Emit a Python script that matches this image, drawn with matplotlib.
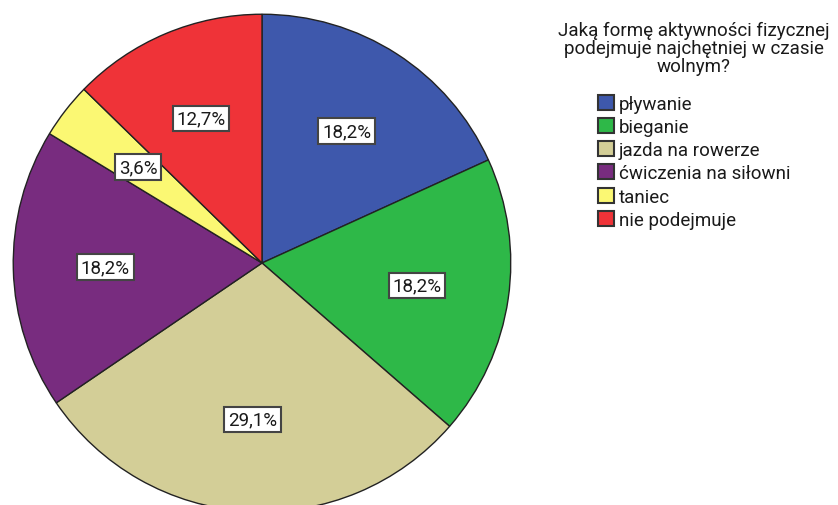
import matplotlib
matplotlib.use('Agg')
import matplotlib.pyplot as plt

categories = ['pływanie', 'bieganie', 'jazda na rowerze', 'ćwiczenia na siłowni',
              'taniec', 'nie podejmuje']
shares = [18.2, 18.2, 29.1, 18.2, 3.6, 12.7]
colors = ['#3E58AC', '#2EB848', '#D3CE97', '#782C7F', '#FBF873', '#EF3338']
legend_title = 'Jaką formę aktywności fizycznej\npodejmuje najchętniej w czasie\nwolnym?'

plt.rcParams['font.family'] = ['Roboto', 'DejaVu Sans']

W, H = 838, 506
fig = plt.figure(figsize=(W / 100, H / 100), dpi=100)
# pie spans x 12..512, y 14..514 (px from top)
ax = fig.add_axes([12 / W, (H - 514) / H, 500 / W, 500 / H])
ax.set_aspect('equal')

wedges, texts, autotexts = ax.pie(
    shares, colors=colors, startangle=90, counterclock=False,
    autopct=lambda p: f'{p:.1f}%'.replace('.', ','), pctdistance=0.63,
    wedgeprops=dict(edgecolor='#222222', linewidth=1.0),
    textprops=dict(fontsize=13.5, color='#1a1a1a'),
    normalize=True)
for t in autotexts:
    t.set_bbox(dict(facecolor='white', edgecolor='#444444', linewidth=1.5,
                    boxstyle='square,pad=0.2'))
ax.set_xlim(-1.005, 1.005)
ax.set_ylim(-1.005, 1.005)

leg = fig.legend(wedges, categories, title=legend_title,
                 loc='upper center', bbox_to_anchor=(694 / W, 1 - 9 / H),
                 frameon=False, fontsize=13.5, title_fontsize=13.5,
                 handlelength=0.85, handleheight=0.85, handletextpad=0.25,
                 labelspacing=0.28, borderpad=0.2)
leg.get_title().set_multialignment('center')
leg.get_title().set_linespacing(1.0)
leg.get_title().set_color('#1a1a1a')
for t in leg.get_texts():
    t.set_color('#1a1a1a')
leg._legend_box.sep = 14
for h in leg.legend_handles:
    h.set_edgecolor('#333333')
    h.set_linewidth(1.5)

fig.savefig('out.png', dpi=100)
